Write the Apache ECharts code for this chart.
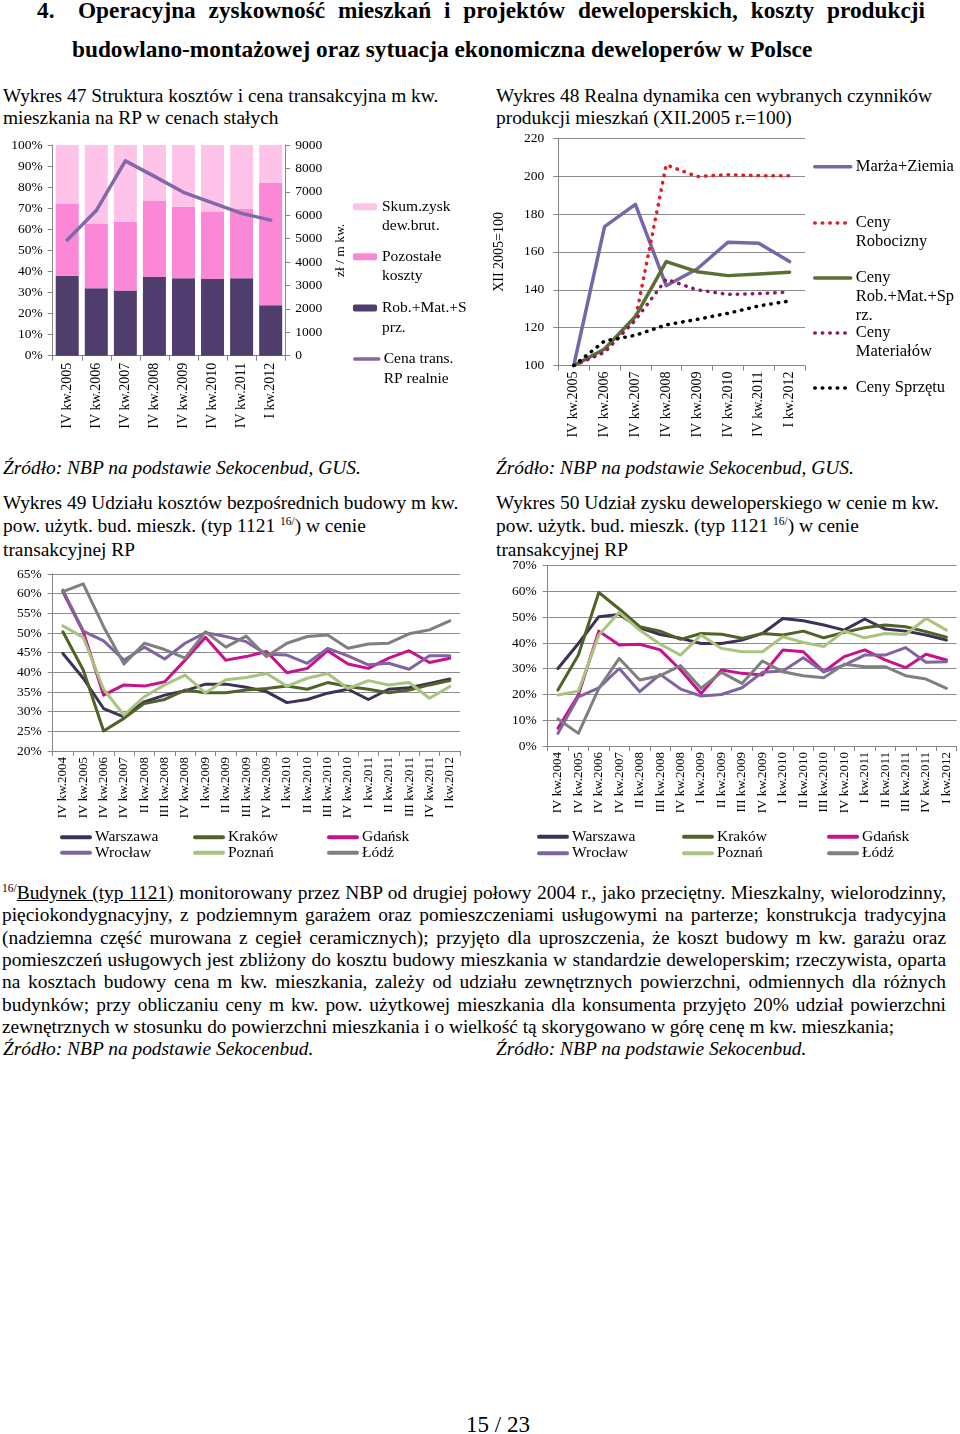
<!DOCTYPE html>
<html lang="pl"><head><meta charset="utf-8">
<script src="https://cdn.jsdelivr.net/npm/echarts@6/dist/echarts.min.js"></script>
<style>
html,body{margin:0;padding:0;background:#fff}
body{width:960px;height:1434px;position:relative;overflow:hidden;font-family:"Liberation Serif","Times New Roman",serif;color:#000}
.a{position:absolute;white-space:nowrap}
.h{font-weight:bold;font-size:23.3px;line-height:26px}
.p{font-size:19.4px;line-height:22.3px}
.j{text-align:justify;text-align-last:justify}
.i{font-style:italic}
sup{font-size:11.5px;vertical-align:0;position:relative;top:-7px}
.ch{position:absolute}
</style></head><body>
<div class="a h" style="left:37px;top:-3px">4.</div>
<div class="a h j" style="left:78px;top:-3px;width:847px">Operacyjna zyskowność mieszkań i projektów deweloperskich, koszty produkcji</div>
<div class="a h" style="left:72px;top:36px">budowlano-montażowej oraz sytuacja ekonomiczna deweloperów w Polsce</div>

<div class="a p" style="left:3px;top:85px">Wykres 47 Struktura kosztów i cena transakcyjna m kw.<br>mieszkania na RP w cenach stałych</div>
<div class="a p" style="left:496px;top:85px">Wykres 48 Realna dynamika cen wybranych czynników<br>produkcji mieszkań (XII.2005 r.=100)</div>

<div class="a p i" style="left:3px;top:457px">Źródło: NBP na podstawie Sekocenbud, GUS.</div>
<div class="a p i" style="left:496px;top:457px">Źródło: NBP na podstawie Sekocenbud, GUS.</div>

<div class="a p" style="left:3px;top:492px;line-height:22.5px">Wykres 49 Udziału kosztów bezpośrednich budowy m kw.<br>pow. użytk. bud. mieszk. (typ 1121 <sup>16/</sup>) w cenie<br>transakcyjnej RP</div>
<div class="a p" style="left:496px;top:492px;line-height:22.5px">Wykres 50 Udział zysku deweloperskiego w cenie m kw.<br>pow. użytk. bud. mieszk. (typ 1121 <sup>16/</sup>) w cenie<br>transakcyjnej RP</div>

<div class="a p j" style="left:2px;top:882px;width:944px"><sup>16/</sup><u>Budynek (typ 1121)</u> monitorowany przez NBP od drugiej połowy 2004 r., jako przeciętny. Mieszkalny, wielorodzinny,</div>
<div class="a p j" style="left:2px;top:904.3px;width:944px">pięciokondygnacyjny, z podziemnym garażem oraz pomieszczeniami usługowymi na parterze; konstrukcja tradycyjna</div>
<div class="a p j" style="left:2px;top:926.6px;width:944px">(nadziemna część murowana z cegieł ceramicznych); przyjęto dla uproszczenia, że koszt budowy m kw. garażu oraz</div>
<div class="a p j" style="left:2px;top:948.9px;width:944px">pomieszczeń usługowych jest zbliżony do kosztu budowy mieszkania w standardzie deweloperskim; rzeczywista, oparta</div>
<div class="a p j" style="left:2px;top:971.2px;width:944px">na kosztach budowy cena m kw. mieszkania, zależy od udziału zewnętrznych powierzchni, odmiennych dla różnych</div>
<div class="a p j" style="left:2px;top:993.5px;width:944px">budynków; przy obliczaniu ceny m kw. pow. użytkowej mieszkania dla konsumenta przyjęto 20% udział powierzchni</div>
<div class="a p" style="left:2px;top:1015.8px">zewnętrznych w stosunku do powierzchni mieszkania i o wielkość tą skorygowano w górę cenę m kw. mieszkania;</div>
<div class="a p i" style="left:3px;top:1038.1px">Źródło: NBP na podstawie Sekocenbud.</div>
<div class="a p i" style="left:496px;top:1038.1px">Źródło: NBP na podstawie Sekocenbud.</div>

<div class="a" style="left:466px;top:1412px;font-size:23px;line-height:26px">15 / 23</div>

<div id="c47" class="ch" style="left:0;top:130px;width:490px;height:320px"></div>
<div id="c48" class="ch" style="left:490px;top:125px;width:470px;height:325px"></div>
<div id="c49" class="ch" style="left:0;top:560px;width:480px;height:310px"></div>
<div id="c50" class="ch" style="left:490px;top:555px;width:470px;height:315px"></div>

<script>
// ---------- DATA ----------
const cats47 = ['IV kw.2005','IV kw.2006','IV kw.2007','IV kw.2008','IV kw.2009','IV kw.2010','IV kw.2011','I kw.2012'];
const robMatSprz47 = [38, 32, 30.9, 37.3, 36.7, 36.4, 36.7, 23.9];
const pozostale47 = [34, 30.5, 32.7, 36.1, 34, 32, 32.9, 58.1];
const zysk47 = [28, 37.5, 36.4, 26.6, 29.3, 31.6, 30.4, 18];
const cena47 = [4940, 6200, 8320, 7660, 6980, 6530, 6080, 5790];

const cats48 = ['IV kw.2005','IV kw.2006','IV kw.2007','IV kw.2008','IV kw.2009','IV kw.2010','IV kw.2011','I kw.2012'];
const marza48 = [100, 173.4, 185.1, 142.2, 151, 165.1, 164.6, 154.9];
const robocizna48 = [100, 107.4, 124.5, 206, 199.8, 200.8, 200.3, 200.2];
const robMatSprz48 = [100, 108.8, 125.9, 154.9, 149.6, 147.5, 148.4, 149.3];
const materialy48 = [100, 107, 124, 145.6, 140, 137.6, 138, 138.8];
const sprzet48 = [100, 113, 116, 121.5, 124.4, 127.6, 131.5, 134.1];

const cats4950 = ['IV kw.2004','IV kw.2005','IV kw.2006','IV kw.2007','II kw.2008','III kw.2008','IV kw.2008','I kw.2009','II kw.2009','III kw.2009','IV kw.2009','I kw.2010','II kw.2010','III kw.2010','IV kw.2010','I kw.2011','II kw.2011','III kw.2011','IV kw.2011','I kw.2012'];
const cities = ['Warszawa','Kraków','Gdańsk','Wrocław','Poznań','Łódź'];

const warszawa49 = [44.8, 38.5, 30.8, 28.7, 32.5, 34.2, 35.3, 37, 37, 36.2, 35.1, 32.3, 33.1, 34.7, 35.7, 33.1, 35.7, 36.1, 37.2, 38.3];
const krakow49 = [50.3, 40.6, 25.1, 28.3, 32.1, 33.1, 35.5, 34.8, 34.8, 35.5, 35.9, 36.5, 35.7, 37.4, 36.4, 35.7, 34.8, 35.5, 36.8, 37.9];
const gdansk49 = [60.5, 50.3, 34.2, 36.8, 36.5, 37.6, 43.1, 48.9, 43.1, 44, 45.3, 39.9, 41, 45.5, 42.1, 41, 43.6, 45.5, 42.5, 43.6];
const wroclaw49 = [60.9, 50.5, 48, 43.1, 46.4, 43.4, 47.4, 50.1, 49.1, 47.8, 44.6, 44.4, 42.3, 46.1, 44.2, 41.9, 42.3, 40.8, 44.2, 44.2];
const poznan49 = [51.8, 48.9, 35.7, 29.1, 33.8, 36.8, 39.3, 34.8, 38.1, 38.7, 39.7, 36.5, 38.5, 39.7, 35.9, 37.9, 36.8, 37.4, 33.4, 36.4];
const lodz49 = [60.5, 62.5, 51.6, 42.1, 47.4, 45.8, 43.6, 50.3, 46.4, 49.2, 44, 47.4, 49.1, 49.5, 46.1, 47.2, 47.4, 49.8, 50.8, 53.1];

const warszawa50 = [30.1, 39.8, 50.2, 51.1, 45.9, 43.3, 41.8, 39.8, 39.8, 41.1, 43.7, 49.5, 48.6, 47, 45, 49.3, 45.4, 44.6, 43.1, 41.1];
const krakow50 = [21.7, 35.3, 59.6, 53.2, 46.3, 44.6, 41.4, 43.7, 43.4, 41.8, 43.7, 43.1, 44.6, 42, 44.1, 45.9, 47, 46.3, 44.4, 42.2];
const gdansk50 = [6.9, 19.8, 44.6, 39.2, 39.5, 37.3, 29.5, 20.4, 29.5, 28.2, 27.6, 37.3, 36.6, 28.8, 34.7, 37.3, 33.4, 30.4, 35.6, 33.4];
const wroclaw50 = [4.9, 19.1, 22.6, 30.1, 21.1, 27.8, 22.1, 19.4, 20, 22.6, 28.6, 29.1, 34.3, 28.8, 31.4, 35.3, 35.3, 38.2, 32.5, 32.7];
const poznan50 = [19.8, 21.3, 43.1, 51.9, 45, 39.5, 35.3, 43.1, 37.9, 36.6, 36.6, 42.4, 40.2, 38.6, 44.6, 42, 43.7, 43.3, 49.5, 45];
const lodz50 = [10.5, 4.9, 22.4, 34, 25.6, 27.3, 31.2, 22.4, 28.6, 24.3, 33, 28.8, 27.3, 26.5, 31.7, 30.8, 30.8, 27.3, 26, 22.4];

// legend label wrapping (text)
const legendLines = {
  'Skum.zysk dew.brut.': ['Skum.zysk', 'dew.brut.'],
  'Pozostałe koszty': ['Pozostałe', 'koszty'],
  'Rob.+Mat.+Sprz.': ['Rob.+Mat.+S', 'prz.'],
  'Cena trans. RP realnie': ['Cena trans.', 'RP realnie'],
  'Marża+Ziemia': ['Marża+Ziemia'],
  'Ceny Robocizny': ['Ceny', 'Robocizny'],
  'Ceny Rob.+Mat.+Sprz.': ['Ceny', 'Rob.+Mat.+Sp', 'rz.'],
  'Ceny Materiałów': ['Ceny', 'Materiałów'],
  'Ceny Sprzętu': ['Ceny Sprzętu']
};

// ---------- HELPERS ----------
const F = 'Liberation Serif';
const AX = '#868686';
const GRIDC = '#8c8c8c';

function catAxis(data, fs, margin) {
  return {
    type: 'category', data: data, boundaryGap: true,
    axisLine: { show: true, lineStyle: { color: AX, width: 1 } },
    axisTick: { show: true, length: 5, lineStyle: { color: AX } },
    axisLabel: { interval: 0, rotate: 90, fontSize: fs, fontFamily: F, color: '#000', margin: margin },
    splitLine: { show: false }
  };
}
function valAxis(o) {
  return Object.assign({
    type: 'value',
    axisLine: { show: true, lineStyle: { color: AX, width: 1 } },
    axisTick: { show: true, length: 5, lineStyle: { color: AX } },
    splitLine: { show: false }
  }, o);
}
// stacked legend entries; first line of each entry aligned with its icon
function sideLegends(names, lineNames, x, ys, LH, fs, iw, ih) {
  return names.map((n, k) => {
    const lines = legendLines[n];
    const isLine = lineNames.indexOf(n) >= 0;
    return {
      data: [n], left: x, top: ys[k] - (lines.length - 0.5) * LH, orient: 'vertical',
      padding: 0, itemGap: 0, itemWidth: iw, itemHeight: ih, selectedMode: false,
      itemStyle: isLine ? { opacity: 0 } : {},
      lineStyle: isLine ? { width: 3.5 } : {},
      formatter: () => Array(lines.length - 1).fill(' ').concat(lines).join('\n'),
      textStyle: { fontFamily: F, fontSize: fs, color: '#000', lineHeight: LH }
    };
  });
}
function gridLegends(names, xs, ys, LH, fs, iw) {
  return names.map((n, k) => ({
    data: [n], left: xs[k % 3], top: ys[Math.floor(k / 3)] - LH / 2, orient: 'horizontal',
    padding: 0, itemGap: 0, itemWidth: iw, itemHeight: 8, selectedMode: false,
    itemStyle: { opacity: 0 },
    lineStyle: { width: 4 },
    textStyle: { fontFamily: F, fontSize: fs, color: '#000', lineHeight: LH }
  }));
}
function lineSeries(name, data, color, width, dotted) {
  return {
    name: name, type: 'line', data: data, symbol: 'none', showSymbol: false,
    lineStyle: dotted ? { color: color, width: 3.5, type: [0.5, 7], cap: 'round' } : { color: color, width: width, cap: 'round', join: 'round' },
    itemStyle: { color: color }
  };
}
const gridBase = { outerBoundsMode: 'none', containLabel: false };
const plainNum = v => String(v);

// ---------- CHART 47 ----------
const c47 = echarts.init(document.getElementById('c47'));
c47.setOption({
  animation: false,
  textStyle: { fontFamily: F },
  grid: Object.assign({ left: 52.7, top: 15, width: 232.5, height: 210.7 }, gridBase),
  legend: sideLegends(['Skum.zysk dew.brut.', 'Pozostałe koszty', 'Rob.+Mat.+Sprz.', 'Cena trans. RP realnie'], ['Cena trans. RP realnie'], 353, [76.7, 126.7, 178, 229], 19.6, 15.5, 24, 7),
  xAxis: catAxis(cats47, 14, 7),
  yAxis: [
    valAxis({ min: 0, max: 100, interval: 10, axisLabel: { formatter: '{value}%', fontSize: 13.5, fontFamily: F, color: '#000', margin: 10 } }),
    valAxis({ min: 0, max: 9000, interval: 1000, position: 'right',
      axisLabel: { formatter: plainNum, fontSize: 13.5, fontFamily: F, color: '#000', margin: 10 },
      name: 'zł / m kw.', nameLocation: 'middle', nameRotate: 90, nameGap: 48,
      nameTextStyle: { fontSize: 13.5, fontFamily: F, color: '#000' } })
  ],
  series: [
    { name: 'Rob.+Mat.+Sprz.', type: 'bar', stack: 's', data: robMatSprz47, barWidth: 23, itemStyle: { color: '#4f3e6d' } },
    { name: 'Pozostałe koszty', type: 'bar', stack: 's', data: pozostale47, barWidth: 23, itemStyle: { color: '#fb87d7' } },
    { name: 'Skum.zysk dew.brut.', type: 'bar', stack: 's', data: zysk47, barWidth: 23, itemStyle: { color: '#ffc3ea' } },
    Object.assign(lineSeries('Cena trans. RP realnie', cena47, '#8068a9', 3.5, false), { yAxisIndex: 1 })
  ]
});

// ---------- CHART 48 ----------
const names48 = ['Marża+Ziemia', 'Ceny Robocizny', 'Ceny Rob.+Mat.+Sprz.', 'Ceny Materiałów', 'Ceny Sprzętu'];
const c48 = echarts.init(document.getElementById('c48'));
c48.setOption({
  animation: false,
  textStyle: { fontFamily: F },
  grid: Object.assign({ left: 68.3, top: 13.3, width: 246.7, height: 227.3 }, gridBase),
  legend: sideLegends(names48, names48, 323, [41.7, 98, 153, 208, 263], 19, 16.5, 36, 8),
  xAxis: catAxis(cats48, 14, 6),
  yAxis: valAxis({ min: 100, max: 220, interval: 20,
    axisLabel: { fontSize: 13.5, fontFamily: F, color: '#000', margin: 14 },
    splitLine: { show: true, lineStyle: { color: GRIDC, width: 1 } },
    name: 'XII 2005=100', nameLocation: 'middle', nameRotate: 90, nameGap: 52,
    nameTextStyle: { fontSize: 14, fontFamily: F, color: '#000' } }),
  series: [
    lineSeries(names48[0], marza48, '#7866a8', 3.5, false),
    lineSeries(names48[1], robocizna48, '#e31b23', 3.5, true),
    lineSeries(names48[2], robMatSprz48, '#5a6f33', 3.5, false),
    lineSeries(names48[3], materialy48, '#8b1c62', 3.5, true),
    lineSeries(names48[4], sprzet48, '#000000', 3.5, true)
  ]
});

// ---------- CHARTS 49 / 50 ----------
const cityColors = ['#3d3159', '#4f6228', '#c9118b', '#8064a2', '#a9c47e', '#7f7f7f'];
function cityChart(id, grid, yOpt, series, legXs, legYs) {
  const ch = echarts.init(document.getElementById(id));
  ch.setOption({
    animation: false,
    textStyle: { fontFamily: F },
    grid: Object.assign(grid, gridBase),
    legend: gridLegends(cities, legXs, legYs, 16, 15.5, 28),
    xAxis: catAxis(cats4950, 13, 6),
    yAxis: valAxis(Object.assign({
      axisLabel: { formatter: '{value}%', fontSize: 13.5, fontFamily: F, color: '#000', margin: 11 },
      splitLine: { show: true, lineStyle: { color: GRIDC, width: 1.2 } }
    }, yOpt)),
    series: series.map((d, k) => lineSeries(cities[k], d, cityColors[k], 3, false))
  });
}
cityChart('c49', { left: 52.7, top: 14, width: 407.3, height: 177 }, { min: 20, max: 65, interval: 5 },
  [warszawa49, krakow49, gdansk49, wroclaw49, poznan49, lodz49], [60, 193, 327], [277.3, 292.7]);
cityChart('c50', { left: 57.7, top: 10.7, width: 409, height: 180.3 }, { min: 0, max: 70, interval: 10 },
  [warszawa50, krakow50, gdansk50, wroclaw50, poznan50, lodz50], [47, 192, 337], [281.7, 298.3]);
</script>
</body></html>
